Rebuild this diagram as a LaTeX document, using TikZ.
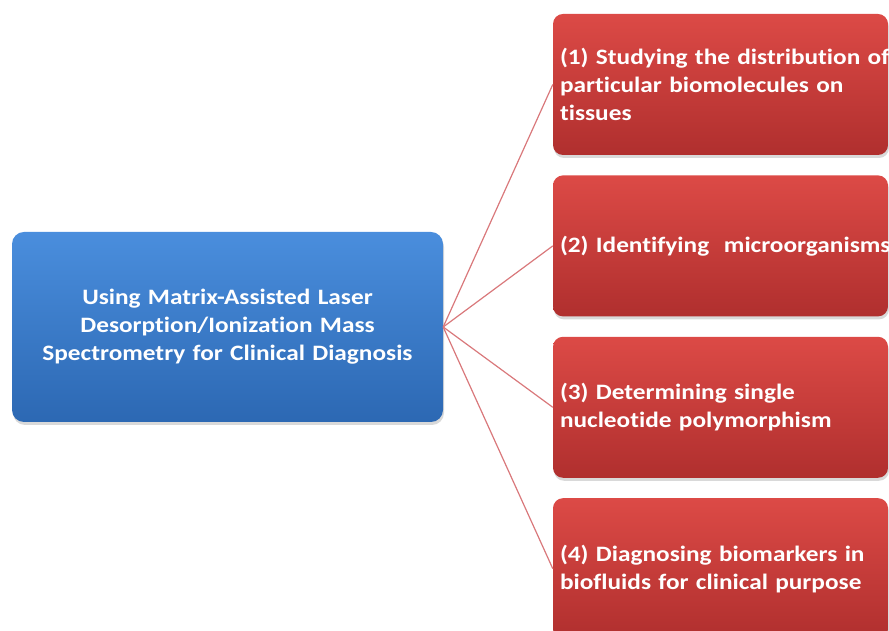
\documentclass[tikz,border=0pt]{standalone}
\usepackage{fontspec}
\setmainfont{Carlito}[FakeStretch=1.15, Ligatures=NoCommon]
\usetikzlibrary{shapes,positioning,shadows}

\definecolor{hubtop}{HTML}{4A8EDD}
\definecolor{hubbottom}{HTML}{2C68B3}
\definecolor{leaftop}{HTML}{DC4A46}
\definecolor{leafbottom}{HTML}{B02F2E}
\definecolor{linkred}{HTML}{D9787B}
\newcommand{\boxfont}{\fontsize{22}{28}\selectfont\bfseries\spaceskip=0.13em\relax}

\begin{document}
\begin{tikzpicture}[x=1pt, y=1pt, node distance=20pt]
    % Styles
    \tikzstyle{hub} = [rectangle, rounded corners=12pt, top color=hubtop, bottom color=hubbottom, text=white, text width=415pt, inner xsep=8pt, align=center, minimum height=190pt, font=\boxfont, drop shadow={shadow xshift=1pt, shadow yshift=-3pt, opacity=0.3}]
    \tikzstyle{leaf} = [rectangle, rounded corners=10pt, top color=leaftop, bottom color=leafbottom, text=white, text width=321pt, inner xsep=7pt, align=left, minimum height=141pt, font=\boxfont, drop shadow={shadow xshift=1pt, shadow yshift=-3pt, opacity=0.3}]
    \tikzstyle{line} = [draw, linkred, line width=1.2pt]

    \useasboundingbox (0,0) rectangle (889,631);

    % Nodes
    \node [hub] (mainbox) at (227.5,304) {Using Matrix-Assisted Laser\\Desorption/Ionization Mass\\Spectrometry for Clinical Diagnosis};
    \node [leaf] (use1) at (720.5,546.5) {\mbox{(1) Studying the distribution of}\\particular biomolecules on\\tissues};
    \node [leaf, below=of use1] (use2) {\mbox{(2) Identifying\ \ microorganisms}};
    \node [leaf, below=of use2] (use3) {(3) Determining single\\nucleotide polymorphism};
    \node [leaf, below=of use3] (use4) {(4) Diagnosing biomarkers in\\biofluids for clinical purpose};

    % Connections
    \path [line] (mainbox.east) -- (use1.west);
    \path [line] (mainbox.east) -- (use2.west);
    \path [line] (mainbox.east) -- (use3.west);
    \path [line] (mainbox.east) -- (use4.west);
\end{tikzpicture}
\end{document}
